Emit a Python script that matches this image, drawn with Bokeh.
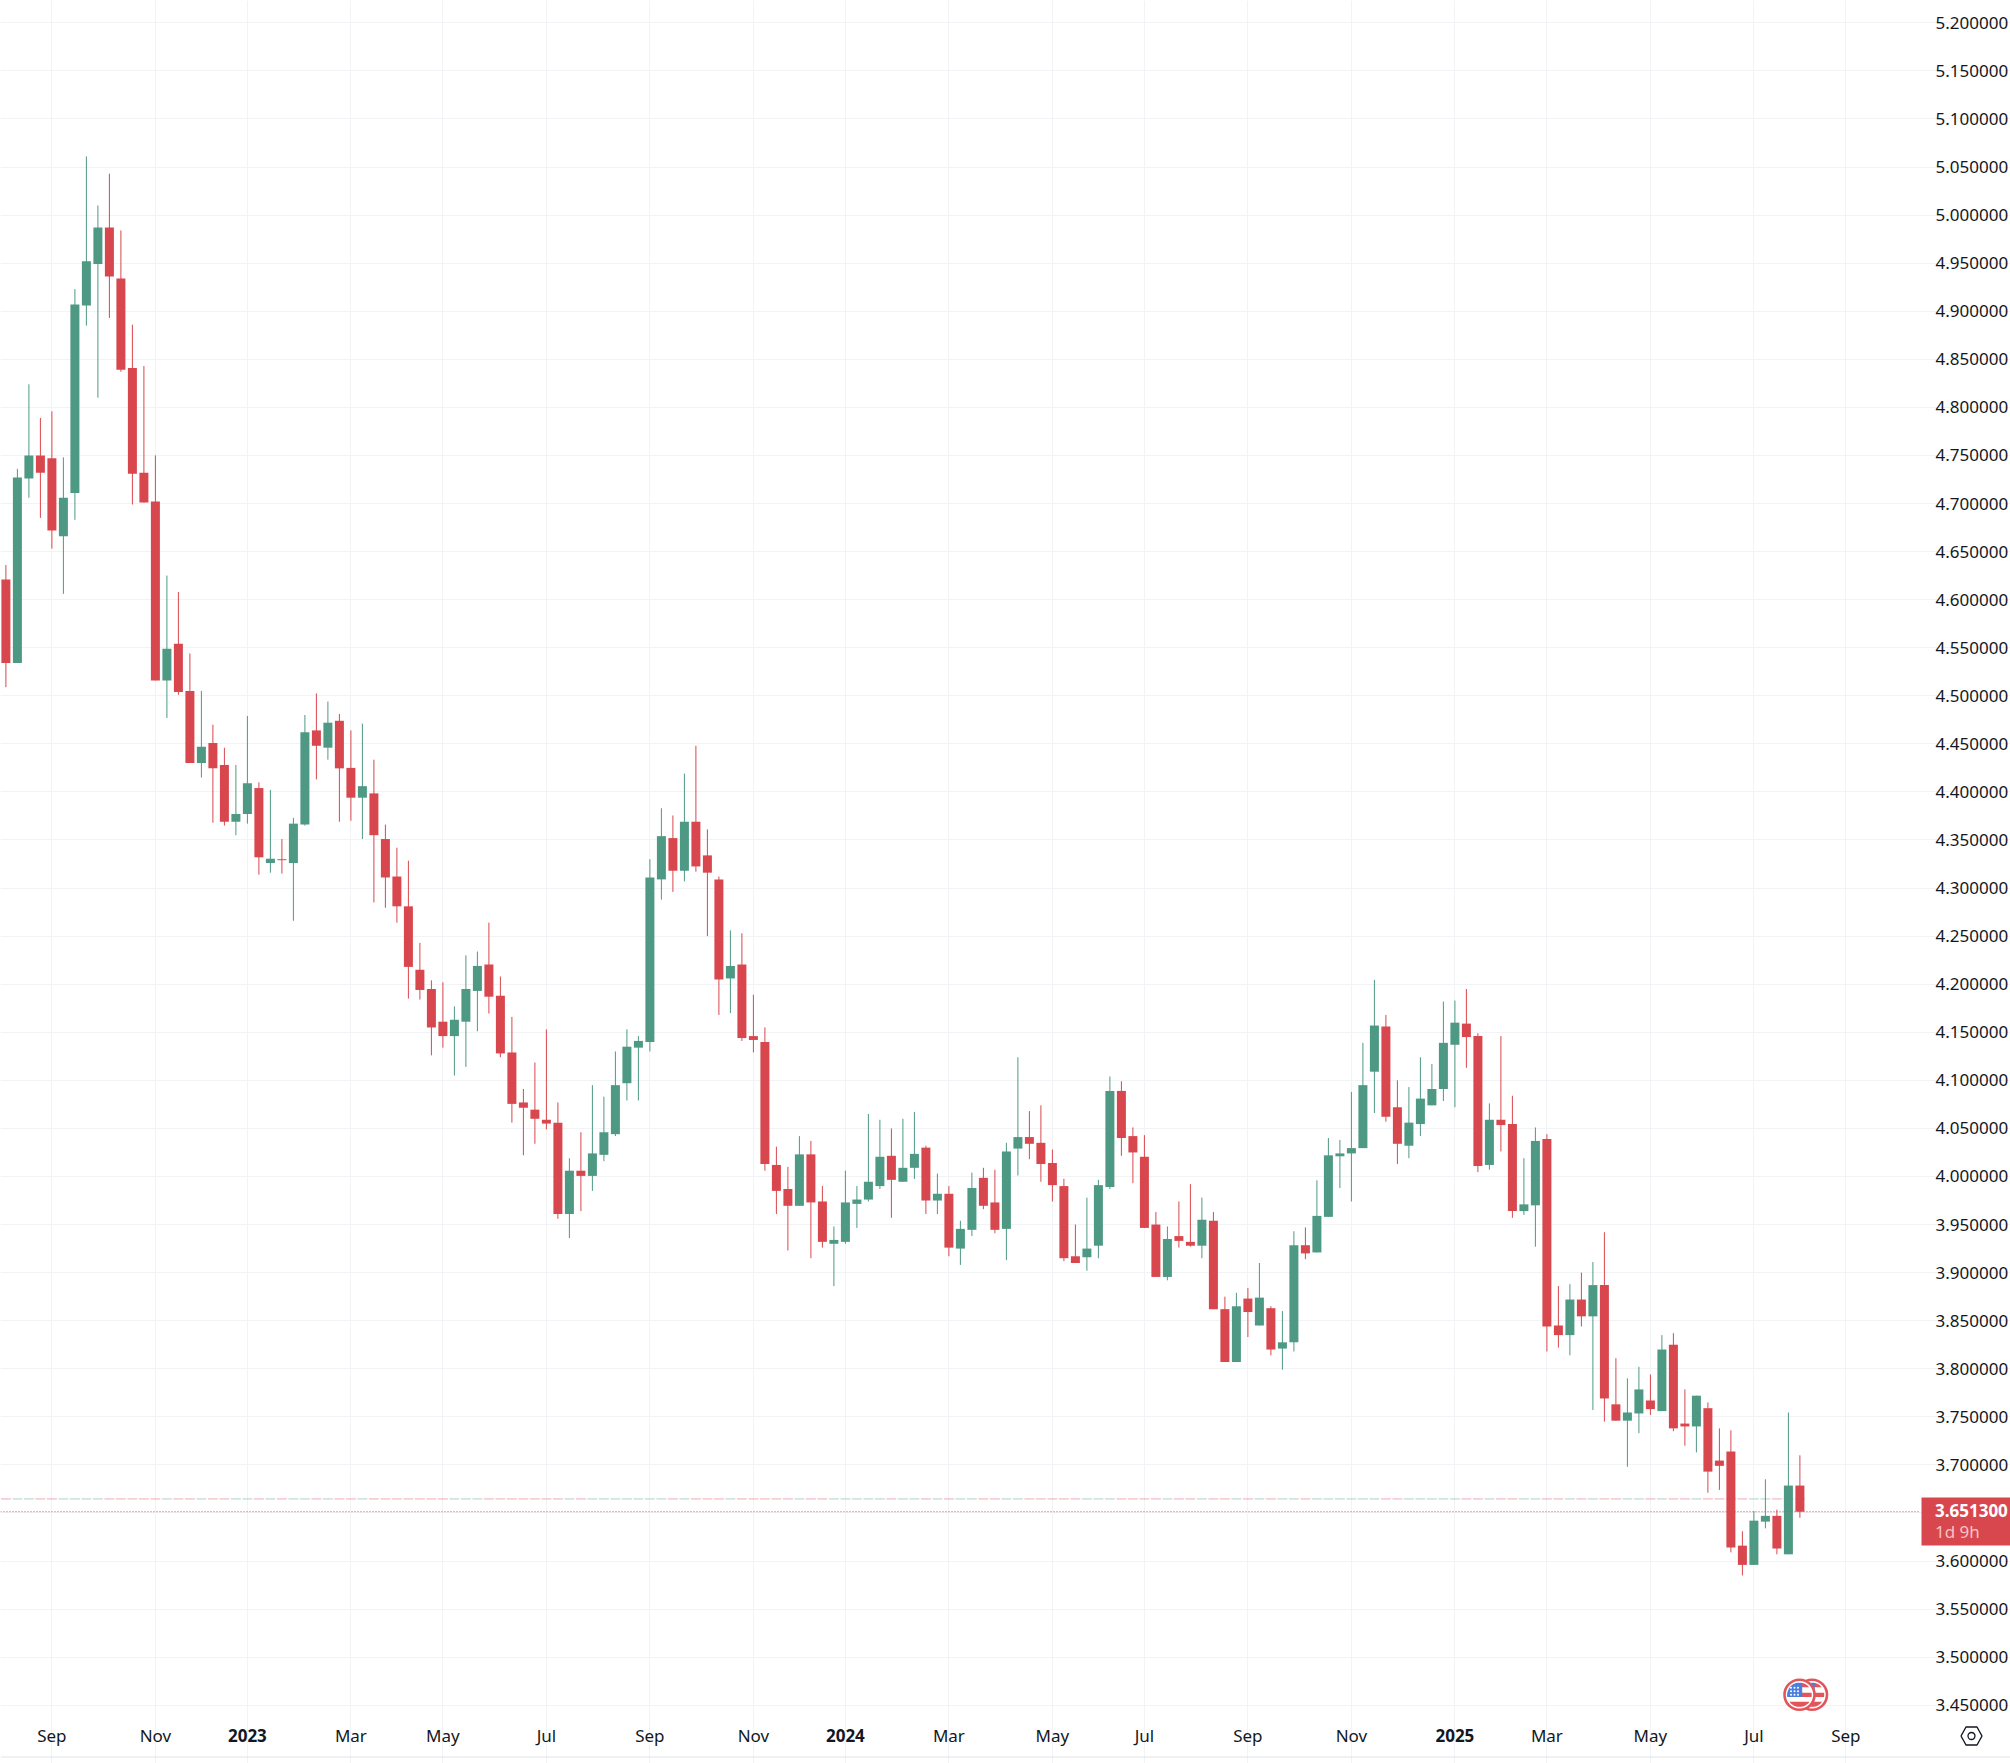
from bokeh.plotting import figure
from bokeh.models import ColumnDataSource, FixedTicker, LinearAxis, NumeralTickFormatter
from bokeh.core.properties import value
from bokeh.embed import file_html
from bokeh.resources import INLINE
import math

opens = [4.621,4.534,4.726,4.750,4.747,4.666,4.711,4.906,4.949,4.987,4.934,4.841,4.732,4.702,4.516,4.554,4.505,4.430,4.451,4.428,
         4.369,4.377,4.404,4.326,4.330,4.326,4.366,4.464,4.446,4.474,4.425,4.394,4.3985,4.351,4.312,4.281,4.215,4.195,4.161,4.146,
         4.161,4.193,4.2205,4.188,4.129,4.077,4.0695,4.059,4.056,3.961,4.006,4.0006,4.0225,4.044,4.097,4.134,4.140,4.309,4.352,4.318,
         4.369,4.334,4.309,4.206,4.2205,4.146,4.140,4.012,3.987,3.9695,4.023,3.974,3.930,3.932,3.9715,3.976,3.990,4.0215,3.9945,4.009,
         4.030,3.975,3.982,3.925,3.9445,3.9986,3.973,3.9455,4.029,4.041,4.035,4.014,3.990,3.917,3.916,3.928,3.989,4.089,4.042,4.0205,
         3.950,3.8955,3.938,3.932,3.928,3.954,3.862,3.807,3.873,3.845,3.863,3.821,3.8275,3.9285,3.921,3.958,4.021,4.024,4.0295,4.109,
         4.156,4.072,4.032,4.0545,4.074,4.091,4.137,4.159,4.146,4.012,4.059,4.0545,3.964,3.970,4.039,3.845,3.835,3.872,3.8545,3.887,
         3.763,3.746,3.7535,3.767,3.756,3.825,3.743,3.740,3.759,3.7045,3.714,3.616,3.596,3.641,3.647,3.607,3.6785]
highs = [4.636,4.736,4.824,4.789,4.796,4.748,4.923,5.061,5.010,5.043,4.984,4.886,4.843,4.750,4.625,4.608,4.544,4.505,4.470,4.446,
         4.428,4.479,4.410,4.402,4.351,4.373,4.480,4.5025,4.494,4.481,4.464,4.471,4.4335,4.366,4.342,4.3285,4.243,4.204,4.202,4.177,
         4.230,4.234,4.264,4.208,4.166,4.091,4.1185,4.153,4.077,4.019,4.046,4.095,4.083,4.130,4.153,4.146,4.330,4.383,4.3755,4.419,
         4.448,4.361,4.312,4.256,4.253,4.189,4.155,4.031,4.010,4.042,4.037,3.990,3.948,4.006,3.990,4.065,4.059,4.050,4.060,4.067,
         4.032,4.003,3.990,3.954,4.004,4.009,4.007,4.035,4.124,4.068,4.074,4.028,3.9976,3.950,3.978,3.9965,4.104,4.099,4.051,4.043,
         3.963,3.948,3.974,3.992,3.978,3.963,3.875,3.879,3.884,3.910,3.865,3.860,3.943,3.947,3.996,4.040,4.038,4.088,4.139,4.2045,
         4.168,4.100,4.093,4.124,4.117,4.182,4.183,4.195,4.149,4.076,4.146,4.084,4.019,4.051,4.044,3.886,3.888,3.900,3.911,3.942,
         3.811,3.790,3.802,3.794,3.835,3.837,3.7785,3.772,3.765,3.738,3.736,3.631,3.652,3.685,3.6535,3.7545,3.710]
lows = [4.509,4.534,4.706,4.685,4.653,4.606,4.683,4.885,4.810,4.893,4.837,4.699,4.701,4.516,4.477,4.501,4.430,4.415,4.368,4.365,
        4.355,4.367,4.314,4.316,4.315,4.266,4.365,4.413,4.4335,4.369,4.370,4.351,4.285,4.2795,4.264,4.185,4.184,4.126,4.134,4.105,
        4.114,4.151,4.1695,4.124,4.056,4.022,4.034,4.049,3.956,3.936,3.964,3.985,4.016,4.042,4.079,4.079,4.130,4.288,4.296,4.307,
        4.317,4.250,4.168,4.170,4.141,4.129,4.006,3.961,3.923,3.9695,3.915,3.926,3.886,3.930,3.9465,3.974,3.987,3.957,3.9945,3.9975,
        3.961,3.961,3.917,3.908,3.938,3.966,3.941,3.913,4.001,4.018,3.9945,3.974,3.912,3.910,3.902,3.915,3.987,4.0215,3.993,3.9465,
        3.8955,3.892,3.926,3.927,3.915,3.862,3.807,3.807,3.833,3.845,3.814,3.799,3.818,3.914,3.921,3.958,3.988,3.974,4.0295,4.066,
        4.057,4.013,4.019,4.042,4.074,4.0785,4.072,4.113,4.0045,4.007,4.026,3.957,3.960,3.927,3.818,3.822,3.814,3.844,3.757,3.745,
        3.746,3.698,3.733,3.752,3.756,3.735,3.720,3.713,3.671,3.674,3.609,3.585,3.596,3.634,3.607,3.607,3.645]
closes = [4.534,4.727,4.750,4.732,4.672,4.706,4.907,4.952,4.987,4.936,4.839,4.731,4.701,4.516,4.549,4.504,4.430,4.447,4.4245,4.369,
          4.377,4.409,4.332,4.3305,4.329,4.367,4.462,4.448,4.472,4.4245,4.394,4.406,4.355,4.311,4.281,4.218,4.194,4.155,4.146,4.163,
          4.195,4.219,4.187,4.128,4.0755,4.0715,4.060,4.055,3.961,4.006,4.0006,4.024,4.046,4.095,4.135,4.141,4.311,4.354,4.318,4.369,
          4.3225,4.316,4.205,4.219,4.144,4.142,4.013,3.985,3.9695,4.023,3.973,3.932,3.934,3.973,3.976,3.9945,4.0205,3.9965,4.009,4.0235,
          3.975,3.982,3.926,3.9455,3.988,3.9695,3.9445,4.026,4.041,4.034,4.013,3.991,3.915,3.910,3.925,3.991,4.089,4.040,4.025,3.9465,
          3.8955,3.935,3.933,3.928,3.955,3.862,3.807,3.865,3.859,3.874,3.820,3.8275,3.9285,3.920,3.959,4.022,4.024,4.0295,4.095,4.157,
          4.062,4.034,4.056,4.081,4.091,4.139,4.160,4.145,4.011,4.059,4.0535,3.964,3.971,4.037,3.844,3.835,3.872,3.8545,3.887,3.769,
          3.746,3.7545,3.7785,3.758,3.820,3.738,3.740,3.772,3.693,3.699,3.614,3.596,3.642,3.647,3.613,3.6785,3.6513]

price_ticks = [3.45,3.50,3.55,3.60,3.65,3.70,3.75,3.80,3.85,3.90,3.95,4.00,4.05,4.10,4.15,4.20,4.25,4.30,4.35,
               4.40,4.45,4.50,4.55,4.60,4.65,4.70,4.75,4.80,4.85,4.90,4.95,5.00,5.05,5.10,5.15,5.20]
hidden_price_tick = 3.65   # covered by the last-price tag: gridline only, no label
month_positions = [4,13,30,38,47,56,65,82,91,99,108,117,134,143,152,160]
month_labels = ["Sep","Nov","Mar","May","Jul","Sep","Nov","Mar","May","Jul","Sep","Nov","Mar","May","Jul","Sep"]
year_positions = [21,73,126]
year_labels = ["2023","2024","2025"]
last_price = 3.6513
prev_level = 3.6646
last_label = "3.651300"
countdown = "1d 9h"

UP, DOWN = "#4E9983", "#D9474E"
GRID = "#F2F3F6"
TEXT = "#131722"
FONT = "Noto Sans"
W, H = 2010, 1763
PANE_W, PANE_H = 1920, 1713          # price pane inside the page; axes live to its right and below

# pixel <-> data helpers (only used for the furniture outside the candles)
fx = lambda px: (px - 5.4) / 11.5
fy = lambda py: 5.2 - (py - 22.3) / 961.4
pane_x = (fx(0), fx(PANE_W))
pane_y = (fy(PANE_H), fy(0))

idx = list(range(len(opens)))
src = ColumnDataSource(dict(
    x=idx, o=opens, h=highs, l=lows, c=closes,
    top=[max(a, b) for a, b in zip(opens, closes)],
    bot=[min(a, b) for a, b in zip(opens, closes)],
    color=[UP if c > o else DOWN for o, c in zip(opens, closes)],
    x0=[i - 0.43 for i in idx], x1=[i + 0.43 for i in idx],
    lvl=[prev_level] * len(idx),
))

p = figure(width=W, height=H, output_backend="svg", toolbar_location=None,
           x_range=(fx(0), fx(W)), y_range=(fy(H), fy(0)), y_axis_location="right",
           min_border=0, min_border_left=0, min_border_top=0, min_border_right=0, min_border_bottom=0,
           background_fill_color="white", border_fill_color="white")
p.outline_line_color = None

xax = p.xaxis[0]
yax = p.yaxis[0]
xax.fixed_location = pane_y[0]
yax.fixed_location = pane_x[1]
xax.ticker = FixedTicker(ticks=month_positions)
xax.major_label_overrides = dict(zip(month_positions, month_labels))
yax.ticker = FixedTicker(ticks=[t for t in price_ticks if t != hidden_price_tick])
yax.formatter = NumeralTickFormatter(format="0.000000")
yax.major_label_orientation = "horizontal"

year_ax = LinearAxis(ticker=FixedTicker(ticks=year_positions),
                     major_label_overrides=dict(zip(year_positions, year_labels)),
                     fixed_location=pane_y[0], major_label_text_font_style="bold")
p.add_layout(year_ax, "below")

for ax in (xax, yax, year_ax):
    ax.axis_line_color = None
    ax.major_tick_line_color = None
    ax.minor_tick_line_color = None
    ax.major_label_text_color = TEXT
    ax.major_label_text_font = FONT
    ax.major_label_text_font_size = "17px"
xax.major_label_standoff = 4
year_ax.major_label_standoff = 9
yax.major_label_standoff = 9
yax.major_label_text_align = "left"

p.xgrid.grid_line_color = GRID
p.ygrid.grid_line_color = GRID
p.xgrid.ticker = FixedTicker(ticks=sorted(month_positions + year_positions))
p.ygrid.ticker = FixedTicker(ticks=price_ticks)
p.xgrid.bounds = pane_y
p.ygrid.bounds = pane_x

p.segment("x0", "lvl", "x1", "lvl", source=src, color="color", line_width=1, line_alpha=0.45)
p.segment("x", "h", "x", "l", source=src, color="color", line_width=1)
p.vbar("x", 0.783, "top", "bot", source=src, fill_color="color", line_color=None)

# last price: dotted rule, tag, texts
p.segment([pane_x[0]], [last_price], [pane_x[1]], [last_price], line_color=DOWN, line_width=1, line_dash="1 2")
p.quad(left=[fx(1921)], right=[fx(W)], top=[fy(1497)], bottom=[fy(1545)], fill_color=DOWN, line_color=None)
p.text([fx(1934.5)], [fy(1510)], text=[last_label], text_color="white", text_font=value(FONT),
       text_font_size="17px", text_baseline="middle", text_font_style="bold")
p.text([fx(1934.5)], [fy(1531)], text=[countdown], text_color="#F3C4C6", text_font=value(FONT),
       text_font_size="17px", text_baseline="middle")

# bottom rule
p.segment([fx(0)], [fy(1756.5)], [fx(W)], [fy(1756.5)], line_color="#E0E3EB", line_width=1)

# settings icon
cx, cy = 1971, 1735.5
hx = [cx - 10.5, cx - 5.5, cx + 5.5, cx + 10.5, cx + 5.5, cx - 5.5, cx - 10.5]
hy = [cy, cy - 9, cy - 9, cy, cy + 9, cy + 9, cy]
p.line([fx(a) for a in hx], [fy(b) for b in hy], line_color=TEXT, line_width=1.4)
p.scatter([fx(cx)], [fy(cy)], size=7, marker="circle", fill_alpha=0, line_color=TEXT, line_width=1.3)

# US flag badges
FLAG_RED, FLAG_BLUE = "#E2565B", "#4A7FE0"
def clipped_band(c_x, c_y, r, y0, y1, x0, x1):
    ys = [y0 + (y1 - y0) * k / 10 for k in range(11)]
    ys = [y for y in ys if abs(y) < r]
    left = [max(x0, -math.sqrt(r * r - y * y)) for y in ys]
    right = [min(x1, math.sqrt(r * r - y * y)) for y in ys]
    xs = [c_x + v for v in left] + [c_x + v for v in reversed(right)]
    yy = [c_y + y for y in ys] + [c_y + y for y in reversed(ys)]
    return [fx(v) for v in xs], [fy(v) for v in yy]

def badge(c_x, c_y):
    p.scatter([fx(c_x)], [fy(c_y)], size=30, marker="circle", fill_color="white",
              line_color=FLAG_RED, line_width=2.6)
    for y0, y1 in ((-11.7, -7.5), (-2, 2.2), (7, 12.5)):
        xs, ys = clipped_band(c_x, c_y, 12.2, y0, y1, -13, 13)
        p.patch(xs, ys, fill_color=FLAG_RED, line_color=None)
    xs, ys = clipped_band(c_x, c_y, 12.2, -12, 2.2, -13, 2.7)
    p.patch(xs, ys, fill_color=FLAG_BLUE, line_color=None)
    dots_x = [c_x + d for d in (-8.5, -5, -1.5) for _ in range(3)]
    dots_y = [c_y + d for _ in range(3) for d in (-7, -3.5, 0)]
    p.scatter([fx(a) for a in dots_x], [fy(b) for b in dots_y], size=2, marker="circle",
              fill_color="white", line_color=None)

badge(1811.5, 1694.3)
badge(1799, 1694.3)

open("out.html", "w").write(file_html(p, INLINE))
